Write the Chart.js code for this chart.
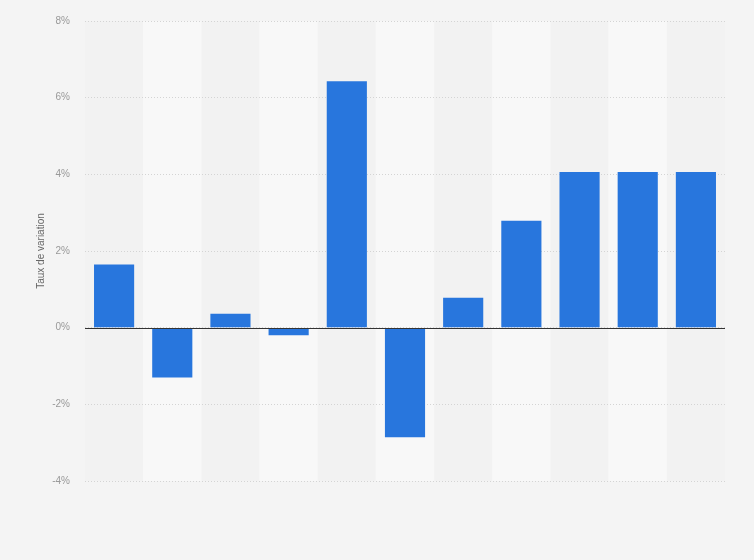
<!DOCTYPE html>
<html lang="fr">
<head>
    <meta charset="UTF-8">
    <title>Taux de variation</title>
    <script src="https://cdn.jsdelivr.net/npm/chart.js"></script>
    <style>
        html, body {
            margin: 0;
            padding: 0;
            background: #f4f4f4;
        }
        #wrap {
            width: 754px;
            height: 560px;
        }
    </style>
</head>
<body>
    <div id="wrap">
        <canvas id="chart" width="754" height="560"></canvas>
    </div>
    <script>
    // données
    const categories = ['', '', '', '', '', '', '', '', '', '', ''];
    const valeurs = [1.65, -1.3, 0.36, -0.2, 6.43, -2.86, 0.78, 2.79, 4.06, 4.06, 4.06];
    const yTicks = [-4, -2, 0, 2, 4, 6, 8];

    // bandes alternées derrière la grille
    const bandes = {
        id: 'bandes',
        beforeDraw(chart) {
            const { ctx, chartArea, scales } = chart;
            const x = scales.x;
            const w = x.width / categories.length;
            ctx.save();
            categories.forEach((c, i) => {
                const cx = x.getPixelForValue(i);
                ctx.fillStyle = i % 2 ? '#f8f8f8' : '#f2f2f2';
                ctx.fillRect(cx - w / 2, chartArea.top, w, chartArea.bottom - chartArea.top);
            });
            ctx.restore();
        }
    };

    // ligne du zéro
    const ligneZero = {
        id: 'ligneZero',
        afterDatasetsDraw(chart) {
            const { ctx, chartArea, scales } = chart;
            const y = Math.round(scales.y.getPixelForValue(0)) + 0.5;
            ctx.save();
            ctx.strokeStyle = '#333333';
            ctx.lineWidth = 1;
            ctx.beginPath();
            ctx.moveTo(chartArea.left, y);
            ctx.lineTo(chartArea.right, y);
            ctx.stroke();
            ctx.restore();
        }
    };

    new Chart(document.getElementById('chart'), {
        type: 'bar',
        data: {
            labels: categories,
            datasets: [{
                data: valeurs,
                backgroundColor: '#2876dd',
                borderWidth: 0,
                categoryPercentage: 1,
                barPercentage: 0.69
            }]
        },
        options: {
            responsive: false,
            animation: false,
            layout: { padding: { top: 15, right: 29, bottom: 71, left: 0 } },
            plugins: {
                legend: { display: false },
                tooltip: { enabled: false }
            },
            scales: {
                x: {
                    grid: { display: false },
                    border: { display: false },
                    ticks: { display: false }
                },
                y: {
                    min: -4,
                    max: 8,
                    afterBuildTicks(axis) {
                        axis.ticks = yTicks.map(v => ({ value: v }));
                    },
                    afterFit(axis) {
                        axis.width = 85;
                    },
                    grid: {
                        color: '#d4d4d4',
                        drawTicks: false
                    },
                    border: { display: false, dash: [1, 2] },
                    ticks: {
                        padding: 15,
                        color: '#999999',
                        font: { family: 'Arial, "Liberation Sans", sans-serif', size: 10 },
                        callback: v => v + '%'
                    },
                    title: {
                        display: true,
                        text: 'Taux de variation',
                        color: '#666666',
                        padding: { top: 35 },
                        font: { family: 'Arial, "Liberation Sans", sans-serif', size: 10 }
                    }
                }
            }
        },
        plugins: [bandes, ligneZero]
    });
    </script>
</body>
</html>
